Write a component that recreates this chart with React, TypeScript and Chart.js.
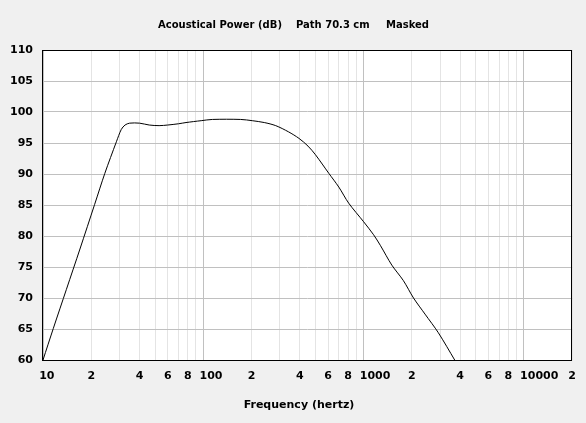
import React, { useEffect, useRef } from "react";
import { Chart, registerables } from "chart.js";

Chart.register(...registerables);

const FREQ_HZ = [
  10, 11.6, 14, 17, 21, 24.3, 28.7, 30.8, 32.5, 34.7, 40, 46, 53, 60, 70, 78, 97,
  114, 171, 202, 240, 283, 340, 395, 450, 501, 607, 700, 807, 1000, 1154, 1271,
  1500, 1771, 2048, 2416, 2925, 3700,
];
const POWER_DB = [
  60, 65.1, 71.4, 77.9, 85.1, 90.1, 95.2, 97.2, 97.9, 98.2, 98.2, 97.9, 97.8,
  97.9, 98.1, 98.3, 98.6, 98.8, 98.8, 98.6, 98.3, 97.8, 96.8, 95.75, 94.5, 93.1,
  90.1, 87.9, 85.3, 82.3, 80.2, 78.5, 75.3, 72.8, 70.0, 67.4, 64.4, 60,
];
const X_TICKS = [
  10, 20, 30, 40, 50, 60, 70, 80, 90, 100, 200, 300, 400, 500, 600, 700, 800,
  900, 1000, 2000, 3000, 4000, 5000, 6000, 7000, 8000, 9000, 10000, 20000,
];
const TITLE_PARTS = ["Acoustical Power (dB)", "Path 70.3 cm", "Masked"];
const X_TITLE = "Frequency (hertz)";

const isDecade = (v: number) => Math.abs(Math.log10(v) - Math.round(Math.log10(v))) < 1e-9;

export default function App() {
  const ref = useRef<HTMLCanvasElement | null>(null);

  useEffect(() => {
    document.body.style.margin = "0";
    const canvas = ref.current!;
    const decor = {
      id: "decor",
      beforeDraw(chart: any) {
        const { ctx, chartArea: a } = chart;
        ctx.save();
        ctx.fillStyle = "#f0f0f0";
        ctx.fillRect(0, 0, chart.width, chart.height);
        ctx.fillStyle = "#ffffff";
        ctx.fillRect(a.left, a.top, a.right - a.left, a.bottom - a.top);
        ctx.restore();
      },
      afterDraw(chart: any) {
        const { ctx, chartArea: a } = chart;
        ctx.save();
        ctx.strokeStyle = "#000000";
        ctx.lineWidth = 1;
        ctx.strokeRect(Math.round(a.left) - 0.5, Math.round(a.top) + 0.5, Math.round(a.right - a.left), Math.round(a.bottom - a.top));
        ctx.fillStyle = "#000000";
        ctx.textBaseline = "middle";
        ctx.textAlign = "left";
        ctx.font = "bold 10px 'DejaVu Sans'";
        const xs = [158, 296, 386];
        TITLE_PARTS.forEach((t, i) => ctx.fillText(t, xs[i], 25));
        ctx.textAlign = "center";
        ctx.font = "bold 11px 'DejaVu Sans'";
        ctx.fillText(X_TITLE, 299, 405);
        ctx.restore();
      },
    };

    const chart = new Chart(canvas, {
      type: "line",
      data: {
        datasets: [
          {
            data: FREQ_HZ.map((f, i) => ({ x: f, y: POWER_DB[i] })),
            borderColor: "#000000",
            borderWidth: 1,
            pointRadius: 0,
            fill: false,
            tension: 0.3,
          },
        ],
      },
      options: {
        animation: false,
        responsive: false,
        devicePixelRatio: 1,
        layout: { padding: { top: 50, right: 12, bottom: 0, left: 0 } },
        plugins: { legend: { display: false }, tooltip: { enabled: false }, title: { display: false } },
        scales: {
          x: {
            type: "logarithmic",
            min: 10,
            max: 20000,
            afterFit: (s: any) => {
              s.height = 63;
            },
            afterBuildTicks: (s: any) => {
              s.ticks = X_TICKS.map((v) => ({ value: v }));
            },
            border: { display: false },
            grid: {
              drawTicks: false,
              color: (c: any) => (c.tick && isDecade(c.tick.value) ? "#c0c0c0" : "#e4e4e4"),
            },
            ticks: {
              autoSkip: false,
              maxRotation: 0,
              minRotation: 0,
              padding: 10,
              color: "#000000",
              font: { family: "'DejaVu Sans'", size: 11, weight: "bold" },
              callback: (value: any) => {
                const v = Number(value);
                if (isDecade(v)) {
                  const s = String(Math.round(v));
                  return " ".repeat(2 * (s.length - 1)) + s;
                }
                const lead = Math.round(v / Math.pow(10, Math.floor(Math.log10(v))));
                return lead % 2 === 0 ? String(lead) : "";
              },
            },
          },
          y: {
            type: "linear",
            min: 60,
            max: 110,
            afterFit: (s: any) => {
              s.width = 43;
            },
            border: { display: false },
            grid: { drawTicks: false, color: "#c0c0c0" },
            ticks: {
              stepSize: 5,
              padding: 10,
              color: "#000000",
              font: { family: "'DejaVu Sans'", size: 11, weight: "bold" },
            },
          },
        },
      },
      plugins: [decor],
    } as any);
    return () => chart.destroy();
  }, []);

  return (
    <div style={{ width: 586, height: 423 }}>
      <canvas ref={ref} width={586} height={423} style={{ display: "block" }} />
    </div>
  );
}
